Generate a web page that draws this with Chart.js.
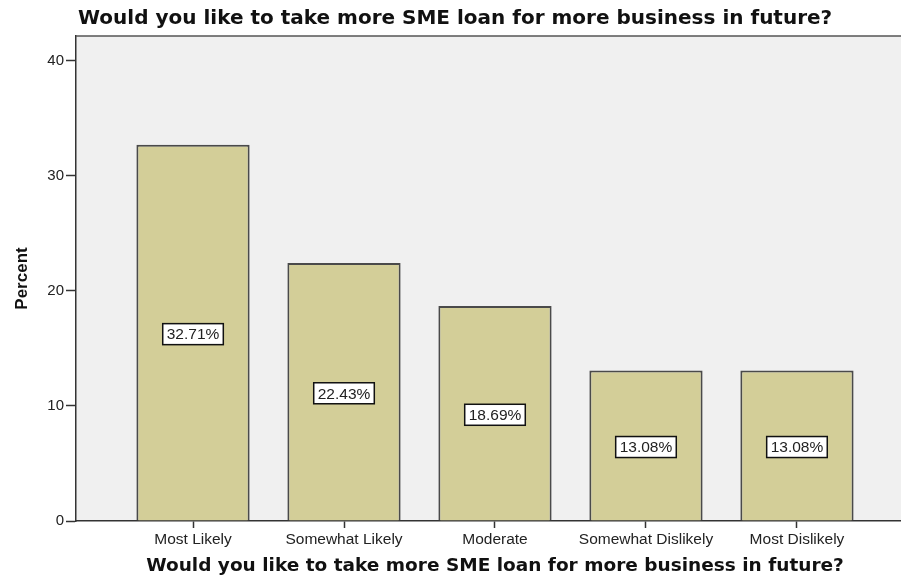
<!DOCTYPE html>
<html>
<head>
<meta charset="utf-8">
<script src="https://cdn.jsdelivr.net/npm/chart.js@4.4.1/dist/chart.umd.min.js"></script>
<style>
  html, body { margin: 0; padding: 0; background: #fff; overflow: hidden; }
  #wrap { width: 901px; height: 578px; }
</style>
</head>
<body>
<div id="wrap"><canvas id="smeChart"></canvas></div>
<script>
const categories = ["Most Likely", "Somewhat Likely", "Moderate", "Somewhat Dislikely", "Most Dislikely"];
const percents = [32.71, 22.43, 18.69, 13.08, 13.08];
const yTicks = [0, 10, 20, 30, 40];
const question = "Would you like to take more SME loan for more business in future?";

const FONT = "'Liberation Sans', Arial, sans-serif";
const TITLE_FONT = "'DejaVu Sans', Verdana, sans-serif";

// Chart title, x axis title, plot frame top line and the boxed percent labels
const decorPlugin = {
  id: "decor",
  beforeDatasetsDraw(chart) {
    const { ctx, chartArea } = chart;
    ctx.save();
    ctx.strokeStyle = "#555";
    ctx.lineWidth = 1.5;
    ctx.beginPath();
    ctx.moveTo(chartArea.left, chartArea.top);
    ctx.lineTo(chartArea.right, chartArea.top);
    ctx.stroke();
    ctx.restore();
  },
  afterDatasetsDraw(chart) {
    const { ctx, chartArea } = chart;
    const xs = chart.scales.x;
    ctx.save();
    ctx.fillStyle = "#111";
    ctx.textBaseline = "middle";
    ctx.font = "bold 20px " + TITLE_FONT;
    ctx.textAlign = "left";
    ctx.fillText(question, chartArea.left + 2, 19);

    // axis title sits under the middle of the category run
    const mid = (xs.getPixelForValue(0) + xs.getPixelForValue(categories.length - 1)) / 2;
    ctx.font = "bold 18.5px " + TITLE_FONT;
    ctx.textAlign = "center";
    ctx.fillText(question, mid, 566);

    const meta = chart.getDatasetMeta(0);
    ctx.font = "15.5px " + FONT;
    meta.data.forEach((bar, i) => {
      const text = percents[i].toFixed(2) + "%";
      const w = ctx.measureText(text).width + 8;
      const h = 21;
      const cy = (bar.y + bar.base) / 2 + 1.5;
      ctx.fillStyle = "#fff";
      ctx.fillRect(bar.x - w / 2, cy - h / 2, w, h);
      ctx.strokeStyle = "#111";
      ctx.lineWidth = 1.5;
      ctx.strokeRect(bar.x - w / 2, cy - h / 2, w, h);
      ctx.fillStyle = "#222";
      ctx.fillText(text, bar.x, cy + 1);
    });
    ctx.restore();
  }
};

// Grey plot background
const bgPlugin = {
  id: "plotBg",
  beforeDraw(chart) {
    const { ctx, chartArea } = chart;
    ctx.save();
    ctx.fillStyle = "#f0f0f0";
    ctx.fillRect(chartArea.left, chartArea.top, chartArea.right - chartArea.left, chartArea.bottom - chartArea.top);
    ctx.restore();
  }
};

new Chart(document.getElementById("smeChart"), {
  type: "bar",
  data: {
    datasets: [{
      data: percents.map((v, i) => ({ x: i, y: v })),
      backgroundColor: "#d3ce98",
      borderColor: "#4a4a4a",
      borderWidth: 2,
      categoryPercentage: 1,
      barPercentage: 0.75
    }]
  },
  options: {
    responsive: true,
    maintainAspectRatio: false,
    animation: false,
    layout: { padding: { top: 36, left: 0, right: 0, bottom: 0 } },
    plugins: {
      legend: { display: false },
      tooltip: { enabled: false }
    },
    scales: {
      x: {
        type: "linear",
        offset: false,
        min: -0.775,
        max: 4.689,
        afterBuildTicks(scale) {
          scale.ticks = categories.map((_, i) => ({ value: i }));
        },
        afterFit(scale) { scale.height = 57; },
        ticks: {
          autoSkip: false,
          maxRotation: 0,
          padding: 2,
          color: "#222",
          font: { family: FONT, size: 15.5 },
          callback: (v) => categories[v]
        },
        grid: { offset: false, drawOnChartArea: false, tickLength: 7, color: "#333", tickWidth: 1.5 },
        border: { color: "#333", width: 1.5 }
      },
      y: {
        min: 0,
        max: 42.17,
        afterBuildTicks(scale) {
          scale.ticks = yTicks.map((v) => ({ value: v }));
        },
        afterFit(scale) { scale.width = 76; },
        ticks: {
          padding: 2,
          color: "#222",
          font: { family: FONT, size: 15 }
        },
        grid: { drawOnChartArea: false, tickLength: 10, color: "#333", tickWidth: 1.5 },
        border: { color: "#333", width: 1.5 },
        title: {
          display: true,
          text: "Percent",
          color: "#111",
          font: { family: FONT, size: 17, weight: "bold" },
          padding: { top: 12, bottom: 0 }
        }
      }
    }
  },
  plugins: [bgPlugin, decorPlugin]
});
</script>
</body>
</html>
